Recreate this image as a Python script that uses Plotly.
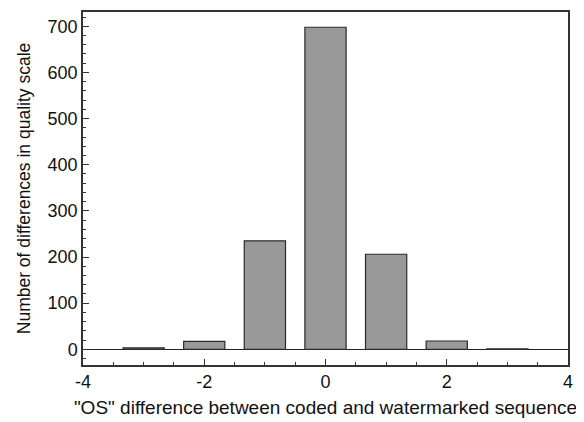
import plotly.graph_objects as go

x_vals = [-3, -2, -1, 0, 1, 2, 3]
counts = [3, 17, 235, 698, 206, 18, 1]
x_ticks = [-4, -2, 0, 2, 4]
y_ticks = [0, 100, 200, 300, 400, 500, 600, 700]

fig = go.Figure()
fig.add_trace(go.Bar(
    x=x_vals, y=counts, width=0.68,
    marker=dict(color="#999999", line=dict(color="#2a2a2a", width=1.2)),
))

font = "Liberation Sans, Arial, Helvetica, sans-serif"
# page body has an 8px margin, so the figure is sized 8px smaller
fig.update_layout(
    width=576, height=414,
    margin=dict(l=75, r=16, t=2, b=57),
    plot_bgcolor="white", paper_bgcolor="white",
    showlegend=False,
    font=dict(family=font, size=18, color="#111111"),
    xaxis=dict(
        range=[-4, 4], tickvals=x_ticks, ticktext=[str(v) for v in x_ticks],
        ticks="inside", ticklen=6, tickcolor="#333333",
        minor=dict(dtick=0.5, tick0=0, ticks="inside", ticklen=3, tickcolor="#333333"),
        showline=True, linecolor="#333333", linewidth=1.5, mirror=True,
        showgrid=False, zeroline=False, tickfont=dict(size=18),
        title=dict(text='"OS" difference between coded and watermarked sequence',
                   font=dict(size=19), standoff=9),
    ),
    yaxis=dict(
        range=[-34, 731], tickvals=y_ticks,
        ticks="inside", ticklen=6, tickcolor="#333333",
        minor=dict(dtick=20, tick0=0, ticks="inside", ticklen=3, tickcolor="#333333"),
        showline=True, linecolor="#333333", linewidth=1.5, mirror=True,
        showgrid=False, zeroline=True, zerolinecolor="#222222", zerolinewidth=1.2,
        tickfont=dict(size=18),
        title=dict(text="Number of differences in quality scale",
                   font=dict(size=17.5), standoff=12),
    ),
)

fig.write_html("out.html")
